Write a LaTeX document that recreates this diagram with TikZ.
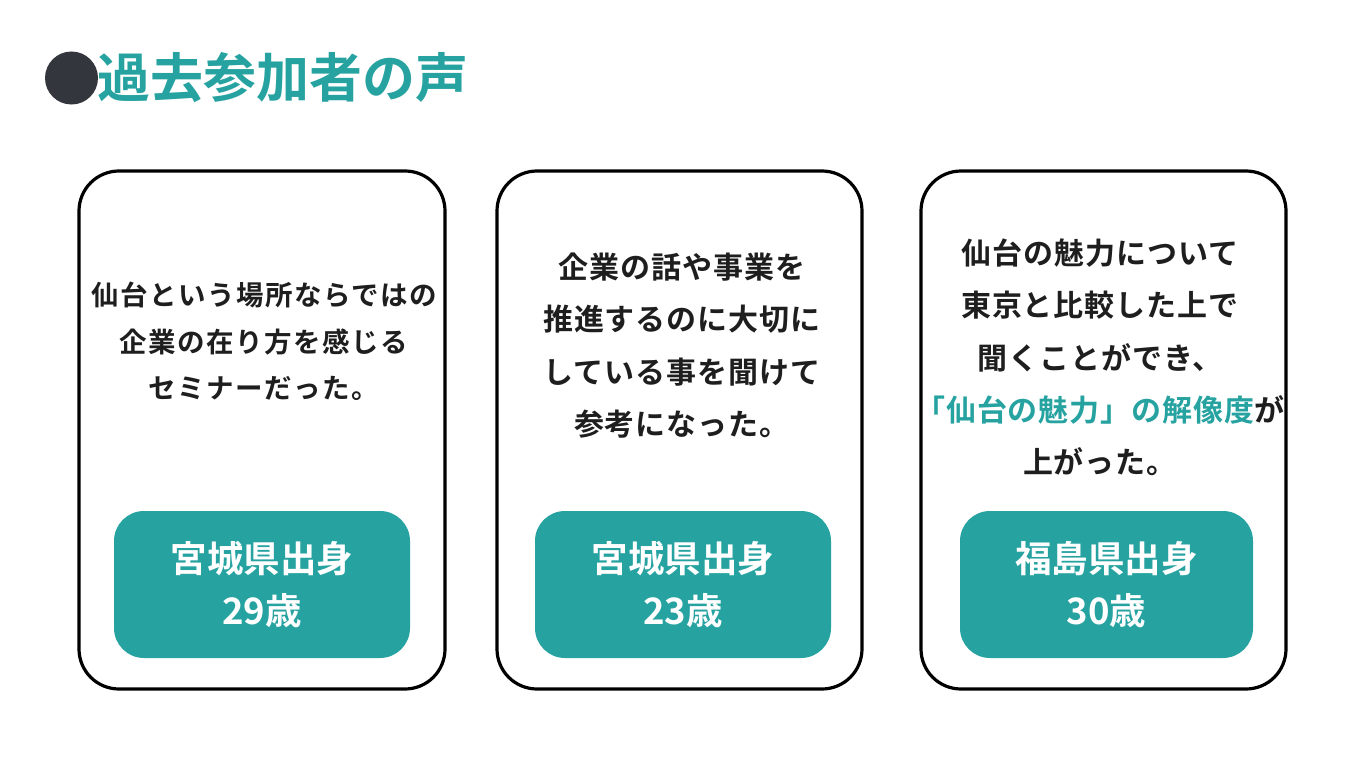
\documentclass[tikz,border=0pt]{standalone}
\usepackage{fontspec}
\newfontfamily\jpb{Noto Sans CJK JP Bold}
\newfontfamily\jpbA{Noto Sans CJK JP Bold}[LetterSpace=5.5]
\newfontfamily\jpbB{Noto Sans CJK JP Bold}[LetterSpace=3.3]
\definecolor{teal}{RGB}{38,163,161}
\definecolor{dotdark}{RGB}{51,55,61}
\definecolor{ink}{RGB}{30,30,30}
\begin{document}
\begin{tikzpicture}[x=1pt,y=-1pt,
  card/.style={draw=black, line width=3.2pt, rounded corners=40pt, minimum height=518pt, inner sep=0pt, outer sep=0pt},
  tag/.style={fill=teal, rounded corners=30pt, minimum height=147pt, inner sep=0pt, outer sep=0pt},
  bodyA/.style={anchor=base, inner sep=0pt, text=ink, font=\jpbA\fontsize{27.5}{31}\selectfont},
  bodyB/.style={anchor=base, inner sep=0pt, text=ink, font=\jpbB\fontsize{30}{34}\selectfont},
  taglabel/.style={anchor=base, inner sep=0pt, text=white, font=\jpb\fontsize{36.5}{40}\selectfont},
  titletext/.style={anchor=base west, inner sep=0pt, text=teal, font=\jpb\fontsize{53}{58}\selectfont}
]
\useasboundingbox[fill=white] (0,0) rectangle (1366,768);

% title
\node[circle, fill=dotdark, minimum size=53pt, inner sep=0pt] (dot) at (71.5,78) {};
\node[titletext] (title) at (97,97) {過去参加者の声};

% cards
\node[card, minimum width=366pt] (c1) at (262,430) {};
\node[card, minimum width=365pt] (c2) at (679.5,430) {};
\node[card, minimum width=365pt] (c3) at (1103.5,430) {};

% tags
\node[tag, minimum width=296pt] (t1) at (262,584.5) {};
\node[tag, minimum width=296pt] (t2) at (683,584.5) {};
\node[tag, minimum width=293pt] (t3) at (1106.5,584.5) {};

% card 1 text
\node[bodyA] (a1) at (264,305.5) {仙台という場所ならではの};
\node[bodyA] (a2) at (264,352) {企業の在り方を感じる};
\node[bodyA] (a3) at (264,398.5) {セミナーだった。};

% card 2 text
\node[bodyB] (b1) at (682,278) {企業の話や事業を};
\node[bodyB] (b2) at (682,330.5) {推進するのに大切に};
\node[bodyB] (b3) at (682,383) {している事を聞けて};
\node[bodyB] (b4) at (682,435.5) {参考になった。};

% card 3 text
\node[bodyB] (d1) at (1100,264) {仙台の魅力について};
\node[bodyB] (d2) at (1100,316.5) {東京と比較した上で};
\node[bodyB] (d3) at (1100,369) {聞くことができ、};
\node[bodyB] (d4) at (1100,421) {{\color{teal}「仙台の魅力」の解像度}が};
\node[bodyB] (d5) at (1100,473) {上がった。};

% tag labels
\node[taglabel] (l1a) at (262,572) {宮城県出身};
\node[taglabel] (l1b) at (262,624.5) {29歳};
\node[taglabel] (l2a) at (683,572) {宮城県出身};
\node[taglabel] (l2b) at (683,624.5) {23歳};
\node[taglabel] (l3a) at (1106.5,572) {福島県出身};
\node[taglabel] (l3b) at (1106.5,624.5) {30歳};
\end{tikzpicture}
\end{document}
